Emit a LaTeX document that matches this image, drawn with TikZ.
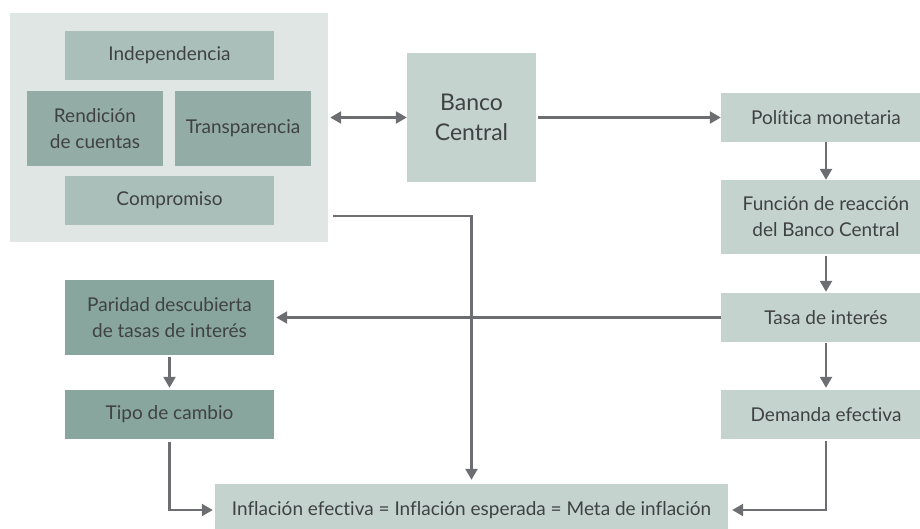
\documentclass[tikz,border=0pt]{standalone}
\usepackage{fontspec}
\setmainfont{Lato}[Ligatures=NoCommon]
\usetikzlibrary{arrows.meta,calc}
\definecolor{outerbg}{HTML}{E0E6E3}
\definecolor{midbox}{HTML}{AABFBA}
\definecolor{darkbox}{HTML}{93ADA6}
\definecolor{lightbox}{HTML}{C4D3CE}
\definecolor{greenbox}{HTML}{88A69E}
\definecolor{arrowgray}{HTML}{6D6E72}
\definecolor{txt}{HTML}{3F4143}
\tikzset{
  box/.style={rectangle, inner sep=2pt, align=center, text=txt, font=\fontsize{19}{26}\selectfont},
  conn/.style={draw=arrowgray, line width=2.4pt, -{Triangle[length=11pt,width=12pt]}},
  dconn/.style={draw=arrowgray, line width=2.4pt, {Triangle[length=11pt,width=12pt]}-{Triangle[length=11pt,width=12pt]}},
  plain/.style={draw=arrowgray, line width=2.4pt}
}
\begin{document}
\begin{tikzpicture}[x=1pt,y=-1pt]
\useasboundingbox (0,0) rectangle (920,528);
% group
\node[box, fill=outerbg, minimum width=318pt, minimum height=229pt] (grp) at (169,127.5) {};
\node[box, fill=midbox, minimum width=209pt, minimum height=49pt] (indep) at (169.5,55.5) {Independencia};
\node[box, fill=darkbox, minimum width=136pt, minimum height=75pt] (rend) at (95,128.5) {Rendición\\de cuentas};
\node[box, fill=darkbox, minimum width=136pt, minimum height=75pt] (transp) at (243,128.5) {Transparencia};
\node[box, fill=midbox, minimum width=209pt, minimum height=49pt] (comp) at (169.5,200.5) {Compromiso};
% center
\node[box, fill=lightbox, minimum width=129pt, minimum height=129pt, font=\fontsize{23}{30}\selectfont] (banco) at (471.5,117.5) {Banco\\Central};
% right column (boxes run past the right edge)
\node[box, fill=lightbox, minimum width=210pt, minimum height=49pt] (pol) at (826,117.5) {Política monetaria};
\node[box, fill=lightbox, minimum width=210pt, minimum height=74pt] (func) at (826,217) {Función de reacción\\del Banco Central};
\node[box, fill=lightbox, minimum width=210pt, minimum height=49pt] (tasa) at (826,317.5) {Tasa de interés};
\node[box, fill=lightbox, minimum width=210pt, minimum height=49pt] (dem) at (826,414.5) {Demanda efectiva};
% left column
\node[box, fill=greenbox, minimum width=209pt, minimum height=75pt] (par) at (169.5,317.5) {Paridad descubierta\\de tasas de interés};
\node[box, fill=greenbox, minimum width=209pt, minimum height=49pt] (tipo) at (169.5,414.5) {Tipo de cambio};
% bottom (runs past the bottom edge)
\node[box, fill=lightbox, minimum width=513pt, minimum height=52pt] (infl) at (471.5,510) {Inflación efectiva = Inflación esperada = Meta de inflación};
% helper coordinate
\coordinate (c1) at (333,216);
% connectors
\draw[dconn] ([xshift=2pt]grp.east |- banco.west) -- (banco.west);
\draw[conn] ([xshift=2pt]banco.east) -- (pol.west);
\draw[conn] (pol.south) -- (func.north);
\draw[conn, shorten <=2pt, shorten >=1pt] (func.south) -- (tasa.north);
\draw[conn, shorten <=1pt, shorten >=2pt] (tasa.south) -- (dem.north);
\draw[conn, shorten >=2pt] (tasa.west) -- (par.east);
\draw[conn, shorten <=2pt, shorten >=2pt] (par.south) -- (tipo.north);
\draw[conn, shorten >=4pt] (c1) -| (infl.north);
\draw[conn, shorten <=3pt, shorten >=2pt] (tipo.south) |- (infl.west);
\draw[conn, shorten <=2pt, shorten >=4pt] (dem.south) |- (infl.east);
\end{tikzpicture}
\end{document}
